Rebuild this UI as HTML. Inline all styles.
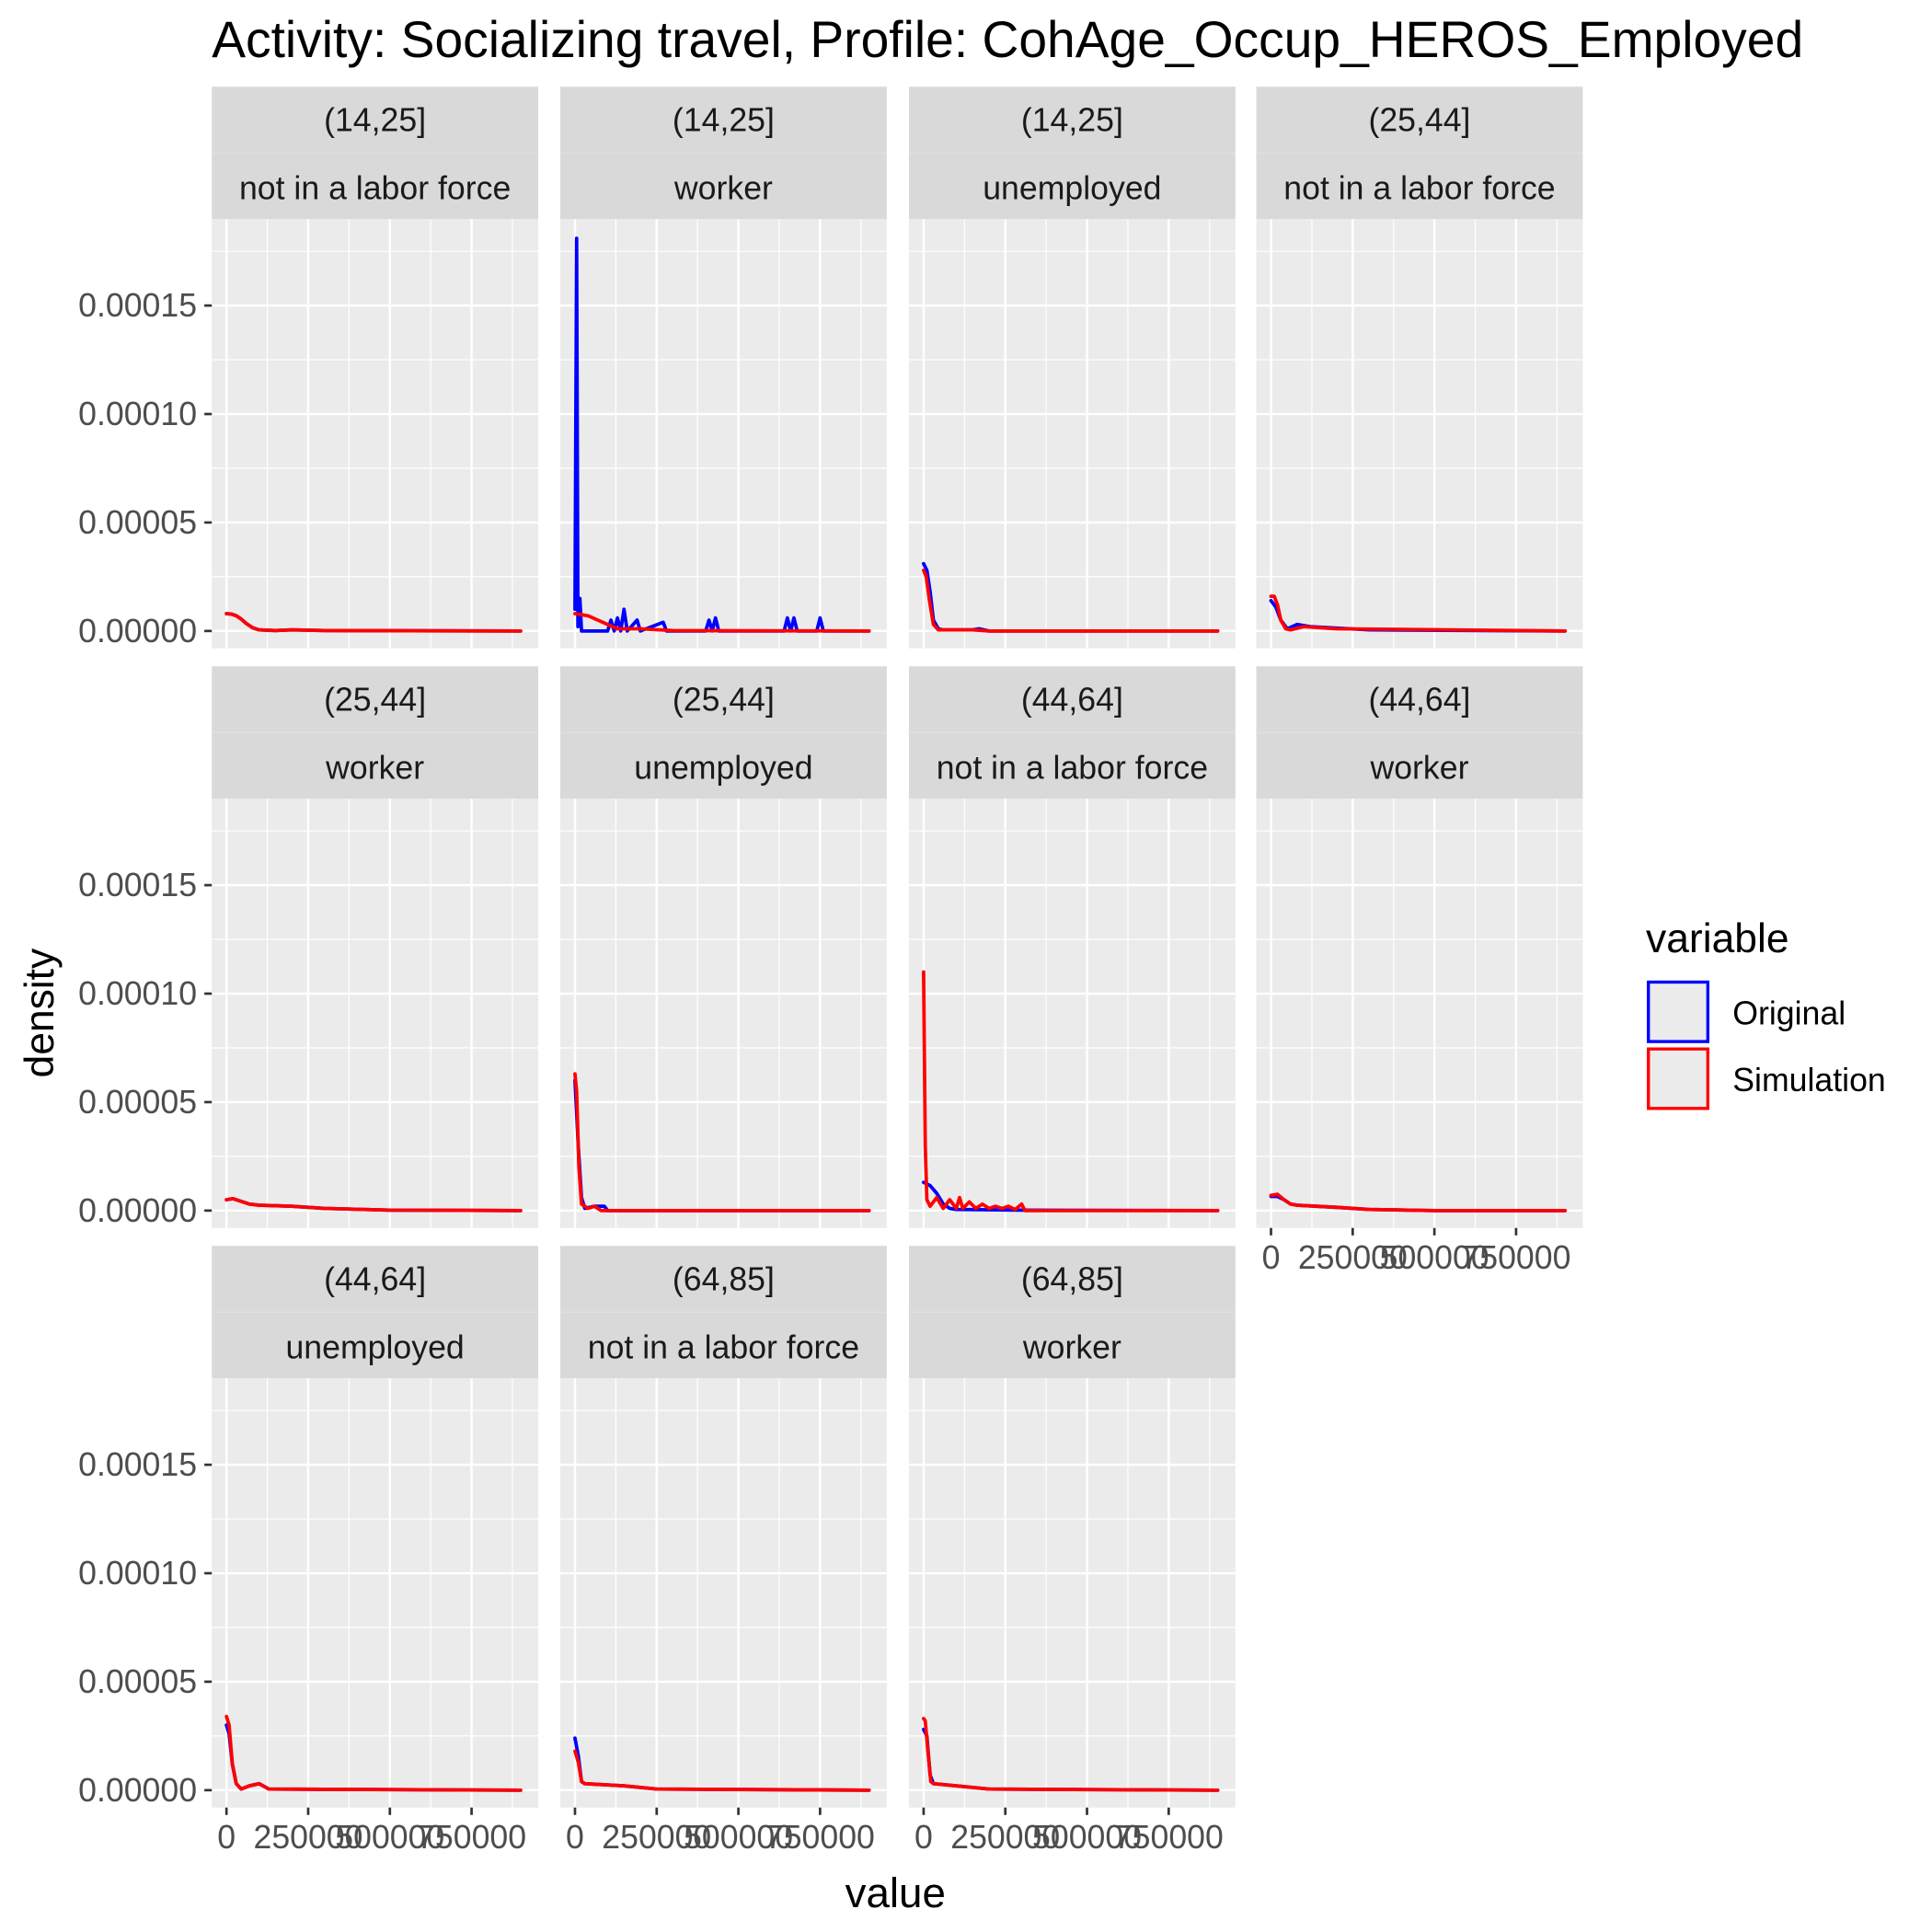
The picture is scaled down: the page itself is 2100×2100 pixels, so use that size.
<!DOCTYPE html>
<html><head><meta charset="utf-8"><style>
html,body{margin:0;padding:0;background:#fff}
svg{display:block}
text{font-family:"Liberation Sans",Arial,sans-serif}
</style></head><body>
<svg id="chart" width="2100" height="2100" viewBox="0 0 1560 1560" xmlns="http://www.w3.org/2000/svg">
<text x="171" y="46" font-size="41" fill="#000">Activity: Socializing travel, Profile: CohAge_Occup_HEROS_Employed</text>
<g id="panels"></g>
<text transform="translate(43,818) rotate(-90)" text-anchor="middle" font-size="33" fill="#000">density</text>
<text x="723" y="1540" text-anchor="middle" font-size="34" fill="#000">value</text>
<g>
<text x="1329" y="769" font-size="33" fill="#000">variable</text>
<rect x="1331" y="793" width="48" height="48" fill="#ebebeb" stroke="#0000ff" stroke-width="2.5"/>
<text x="1399" y="827" font-size="26.5" fill="#000">Original</text>
<rect x="1331" y="847" width="48" height="48" fill="#ebebeb" stroke="#ff0000" stroke-width="2.5"/>
<text x="1399" y="881" font-size="26.5" fill="#000">Simulation</text>
</g>
</svg>
<script>
// x values in units of value, y values in units of 1e-5 density
const panelAges = ["(14,25]","(14,25]","(14,25]","(25,44]","(25,44]","(25,44]","(44,64]","(44,64]","(44,64]","(64,85]","(64,85]"];
const panelOccs = ["not in a labor force","worker","unemployed","not in a labor force","worker","unemployed","not in a labor force","worker","unemployed","not in a labor force","worker"];
const yTicks = [0,0.00005,0.0001,0.00015];
const yTickLabels = ["0.00000","0.00005","0.00010","0.00015"];
const xTicks = [0,250000,500000,750000];
const xTickLabels = ["0","250000","500000","750000"];
const origX = [
 [0,15000,30000,45000,60000,80000,100000,150000,200000,300000,900000],
 [0,5000,9000,15000,20000,100000,110000,120000,130000,140000,150000,160000,190000,200000,270000,280000,400000,410000,420000,430000,440000,640000,650000,660000,670000,680000,740000,750000,760000,900000],
 [0,10000,20000,30000,45000,60000,150000,170000,200000,900000],
 [0,15000,30000,50000,80000,120000,300000,900000],
 [0,20000,40000,70000,100000,200000,300000,500000,900000],
 [0,10000,20000,30000,60000,90000,100000,900000],
 [0,20000,40000,60000,80000,100000,300000,900000],
 [0,20000,40000,60000,80000,200000,300000,500000,900000],
 [0,8000,18000,30000,45000,70000,100000,130000,900000],
 [0,10000,20000,30000,150000,250000,900000],
 [0,10000,20000,30000,100000,200000,900000]
];
const origY = [
 [0.8,0.78,0.7,0.55,0.35,0.15,0.05,0.02,0.05,0.02,0],
 [1,18.1,0.2,1.5,0,0,0.5,0,0.6,0,1,0,0.5,0,0.4,0,0,0.5,0,0.6,0,0,0.6,0,0.6,0,0,0.6,0,0],
 [3.1,2.8,1.8,0.5,0.1,0.05,0.05,0.1,0,0],
 [1.4,1.1,0.5,0.1,0.3,0.2,0.05,0],
 [0.5,0.55,0.45,0.3,0.25,0.2,0.1,0.02,0],
 [6.0,3.0,0.6,0.1,0.2,0.2,0,0],
 [1.3,1.15,0.8,0.3,0.1,0.05,0.02,0],
 [0.65,0.65,0.5,0.3,0.25,0.15,0.05,0,0],
 [3.0,2.6,1.2,0.3,0.05,0.2,0.3,0.05,0],
 [2.4,1.6,0.4,0.3,0.2,0.05,0],
 [2.8,2.5,0.7,0.3,0.2,0.05,0]
];
const simX = [
 [0,15000,30000,45000,60000,80000,100000,150000,200000,300000,900000],
 [0,20000,40000,70000,100000,130000,200000,300000,900000],
 [0,8000,18000,30000,45000,60000,150000,200000,900000],
 [0,10000,20000,30000,45000,60000,100000,200000,900000],
 [0,20000,40000,70000,100000,200000,300000,500000,900000],
 [0,5000,12000,20000,40000,60000,80000,900000],
 [0,5000,10000,20000,40000,60000,80000,100000,110000,120000,140000,160000,180000,200000,220000,240000,260000,280000,300000,310000,900000],
 [0,20000,40000,60000,80000,200000,300000,500000,900000],
 [0,8000,18000,30000,45000,70000,100000,130000,900000],
 [0,10000,20000,30000,150000,250000,900000],
 [0,5000,12000,22000,30000,100000,200000,900000]
];
const simY = [
 [0.8,0.78,0.7,0.55,0.35,0.15,0.05,0.02,0.05,0.02,0],
 [0.8,0.75,0.7,0.5,0.3,0.1,0.1,0.02,0],
 [2.8,2.5,1.4,0.3,0.05,0.05,0.05,0,0],
 [1.6,1.6,1.2,0.5,0.1,0.05,0.2,0.1,0],
 [0.5,0.55,0.45,0.3,0.25,0.2,0.1,0.02,0],
 [6.3,5.5,2.0,0.3,0.1,0.2,0,0],
 [11,3,0.5,0.2,0.6,0.1,0.5,0.1,0.6,0.1,0.4,0.1,0.3,0.1,0.2,0.1,0.2,0.05,0.3,0,0],
 [0.7,0.75,0.5,0.3,0.25,0.15,0.05,0,0],
 [3.4,3.0,1.2,0.3,0.05,0.2,0.3,0.05,0],
 [1.8,1.3,0.4,0.3,0.2,0.05,0],
 [3.3,3.2,2.0,0.4,0.3,0.2,0.05,0]
];

const NS="http://www.w3.org/2000/svg";
const root=document.getElementById("panels");
const colX=[171,452.4,733.9,1014.4], PW=263.6;
const rowTop=[70,538,1006], STRIP=107, PH=346.5;
const xMin=-45000, xMax=954000, yMin=-0.0000080, yMax=0.0001898;
function mk(tag,attrs){const e=document.createElementNS(NS,tag);for(const k in attrs)e.setAttribute(k,attrs[k]);return e;}

for(let i=0;i<panelAges.length;i++){
  const c=i%4, r=Math.floor(i/4);
  const px=colX[c], st=rowTop[r], py=st+STRIP;
  const sx=v=>px+(v-xMin)/(xMax-xMin)*PW;
  const sy=v=>py+PH-(v-yMin)/(yMax-yMin)*PH;
  const g=mk("g",{});
  
  
  root.appendChild(g);
  const s1=mk("rect",{x:px,y:st,width:PW,height:STRIP/2,fill:"#d9d9d9"});
  
  
  g.appendChild(s1);
  const s2=mk("rect",{x:px,y:st+STRIP/2,width:PW,height:STRIP/2,fill:"#d9d9d9"});
  
  
  g.appendChild(s2);
  g.appendChild(mk("line",{x1:px,x2:px+PW,y1:st+STRIP/2,y2:st+STRIP/2,stroke:"#e0e0e0","stroke-width":1}));
  const t1=mk("text",{x:px+PW/2,y:st+36,"text-anchor":"middle","font-size":26.5,fill:"#1a1a1a"});
  t1.textContent=panelAges[i];
  
  
  g.appendChild(t1);
  const t2=mk("text",{x:px+PW/2,y:st+91,"text-anchor":"middle","font-size":26.5,fill:"#1a1a1a"});
  t2.textContent=panelOccs[i];
  
  
  g.appendChild(t2);
  const bg=mk("rect",{x:px,y:py,width:PW,height:PH,fill:"#ebebeb"});
  
  
  g.appendChild(bg);
  for(let k=0;k<yTicks.length-1;k++){const v=(yTicks[k]+yTicks[k+1])/2;g.appendChild(mk("line",{x1:px,x2:px+PW,y1:sy(v),y2:sy(v),stroke:"#fff","stroke-width":0.9}));}
  {const v=yTicks[3]+0.000025;if(v<yMax)g.appendChild(mk("line",{x1:px,x2:px+PW,y1:sy(v),y2:sy(v),stroke:"#fff","stroke-width":0.9}));}
  for(let k=0;k<xTicks.length;k++){const v=xTicks[k]+125000;if(v<xMax)g.appendChild(mk("line",{x1:sx(v),x2:sx(v),y1:py,y2:py+PH,stroke:"#fff","stroke-width":0.9}));}
  yTicks.forEach(v=>g.appendChild(mk("line",{x1:px,x2:px+PW,y1:sy(v),y2:sy(v),stroke:"#fff","stroke-width":1.8})));
  xTicks.forEach(v=>g.appendChild(mk("line",{x1:sx(v),x2:sx(v),y1:py,y2:py+PH,stroke:"#fff","stroke-width":1.8})));
  const pts=(xs,ys)=>xs.map((x,j)=>sx(x).toFixed(2)+","+sy(ys[j]*1e-5).toFixed(2)).join(" ");
  const lo=mk("polyline",{points:pts(origX[i],origY[i]),fill:"none",stroke:"#0000ff","stroke-width":2.8,"stroke-linejoin":"round","stroke-linecap":"round"});
  
  
  g.appendChild(lo);
  const ls=mk("polyline",{points:pts(simX[i],simY[i]),fill:"none",stroke:"#ff0000","stroke-width":2.8,"stroke-linejoin":"round","stroke-linecap":"round"});
  
  
  g.appendChild(ls);
  if(c===0){
    yTicks.forEach((v,k)=>{
      g.appendChild(mk("line",{x1:px-6,x2:px,y1:sy(v),y2:sy(v),stroke:"#333","stroke-width":2}));
      const t=mk("text",{x:px-12,y:sy(v)+9,"text-anchor":"end","font-size":26.5,fill:"#4d4d4d"});
      t.textContent=yTickLabels[k];
      
      
      g.appendChild(t);
    });
  }
  const bottom = (r===2) || (c===3 && r===1);
  if(bottom){
    xTicks.forEach((v,k)=>{
      g.appendChild(mk("line",{x1:sx(v),x2:sx(v),y1:py+PH,y2:py+PH+6,stroke:"#333","stroke-width":2}));
      const t=mk("text",{x:sx(v),y:py+PH+33,"text-anchor":"middle","font-size":26.5,fill:"#4d4d4d"});
      t.textContent=xTickLabels[k];
      
      
      g.appendChild(t);
    });
  }
}
</script>
</body></html>
